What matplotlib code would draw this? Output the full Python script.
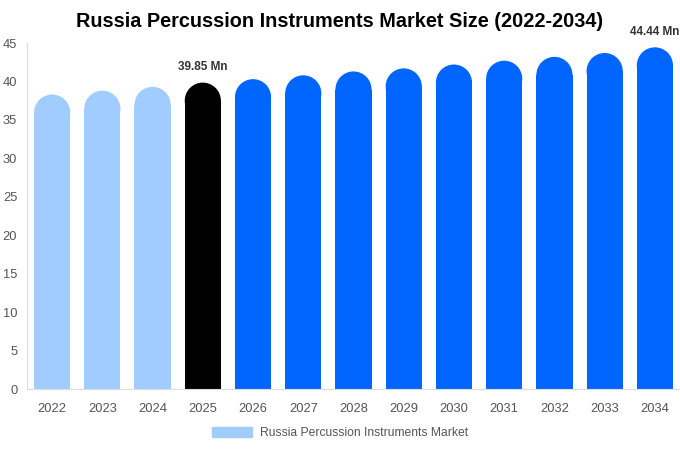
import matplotlib.pyplot as plt
from matplotlib.patches import Ellipse, Patch

plt.rcParams['font.family'] = ['Liberation Sans', 'DejaVu Sans']

years = ['2022', '2023', '2024', '2025', '2026', '2027', '2028', '2029', '2030', '2031', '2032', '2033', '2034']
values = [38.3, 38.8, 39.3, 39.85, 40.3, 40.8, 41.3, 41.7, 42.2, 42.7, 43.2, 43.7, 44.44]
colors = ['#a0cdfd'] * 3 + ['#000000'] + ['#0066ff'] * 9
labels = {3: '39.85 Mn', 12: '44.44 Mn'}

fig = plt.figure(figsize=(6.8, 4.5), dpi=100)
ax = fig.add_axes([27 / 680, 61 / 450, 653 / 680, 346 / 450])
ax.set_xlim(-0.5, 12.5)
ax.set_ylim(0, 45)

w = 0.72
# radius of the rounded top in data units (half bar width in pixels -> y units)
px_per_x = 653 / 13
px_per_y = 346 / 45
r_y = (w / 2) * px_per_x / px_per_y

for i, (v, c) in enumerate(zip(values, colors)):
    ax.bar(i, v - r_y, width=w, color=c, linewidth=0)
    ax.add_patch(Ellipse((i, v - r_y), w, 2 * r_y, color=c, linewidth=0))
    if i in labels:
        ax.text(i, v + 1.2, labels[i], ha='center', va='bottom', fontsize=8.5,
                fontweight='bold', color='#333333')

ax.set_xticks(range(len(years)))
ax.set_xticklabels(years)
ax.set_yticks(range(0, 50, 5))
ax.tick_params(axis='both', length=0, labelsize=9.3, colors='#555555')
ax.tick_params(axis='x', pad=10)
ax.tick_params(axis='y', pad=7)
for s in ['top', 'right']:
    ax.spines[s].set_visible(False)
ax.spines['left'].set_color('#dddddd')
ax.spines['bottom'].set_color('#dddddd')

fig.text(0.5, 0.952, 'Russia Percussion Instruments Market Size (2022-2034)', ha='center',
         va='center', fontsize=14.3, fontweight='bold')

fig.legend(handles=[Patch(color='#a0cdfd', label='Russia Percussion Instruments Market')],
           loc='center', bbox_to_anchor=(0.5, 0.038), frameon=False, fontsize=8.7,
           labelcolor='#555555', handlelength=3.3, handleheight=1.0, handletextpad=0.6)

fig.savefig('out.png', dpi=100)
